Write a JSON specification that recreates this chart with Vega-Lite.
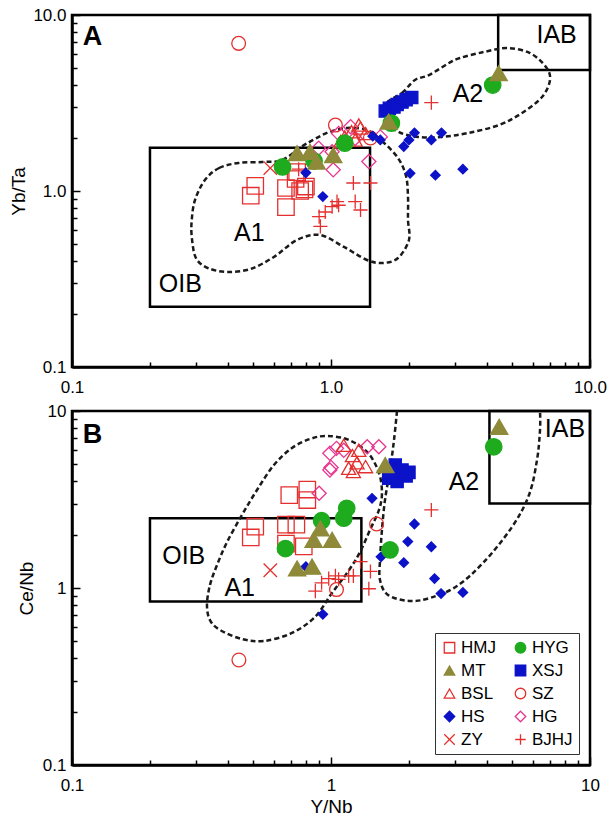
{
  "$schema": "https://vega.github.io/schema/vega-lite/v6.json",
  "padding": {"left": 8, "top": 4, "right": 0, "bottom": 3},
  "bounds": "flush",
  "spacing": 44,
  "datasets": {
    "pts": [
      {"panel":"A","group":"HMJ","x":0.51,"y":1.07},{"panel":"A","group":"HMJ","x":0.49,"y":0.94},{"panel":"A","group":"HMJ","x":0.67,"y":1.04},{"panel":"A","group":"HMJ","x":0.67,"y":0.81},{"panel":"A","group":"HMJ","x":0.79,"y":1.02},{"panel":"A","group":"HMJ","x":0.76,"y":1.0},{"panel":"A","group":"HMJ","x":0.73,"y":1.17},{"panel":"A","group":"HMJ","x":0.74,"y":1.28},{"panel":"A","group":"HMJ","x":0.8,"y":1.06},
      {"panel":"A","group":"BJHJ","x":1.22,"y":1.11},{"panel":"A","group":"BJHJ","x":1.42,"y":1.11},{"panel":"A","group":"BJHJ","x":1.055,"y":0.87},{"panel":"A","group":"BJHJ","x":1.01,"y":0.815},{"panel":"A","group":"BJHJ","x":1.24,"y":0.87},{"panel":"A","group":"BJHJ","x":1.3,"y":0.78},{"panel":"A","group":"BJHJ","x":0.95,"y":0.76},{"panel":"A","group":"BJHJ","x":0.9,"y":0.715},{"panel":"A","group":"BJHJ","x":0.91,"y":0.63},{"panel":"A","group":"BJHJ","x":1.07,"y":0.83},{"panel":"A","group":"BJHJ","x":2.44,"y":3.18},{"panel":"A","group":"BJHJ","x":0.75,"y":1.33},
      {"panel":"A","group":"ZY","x":0.583,"y":1.35},
      {"panel":"A","group":"SZ","x":0.44,"y":6.9},{"panel":"A","group":"SZ","x":1.04,"y":2.37},{"panel":"A","group":"SZ","x":1.42,"y":2.0},
      {"panel":"A","group":"HG","x":1.19,"y":2.32},{"panel":"A","group":"HG","x":0.896,"y":1.75},{"panel":"A","group":"HG","x":1.01,"y":1.67},{"panel":"A","group":"HG","x":1.02,"y":1.32},{"panel":"A","group":"HG","x":1.4,"y":1.47},{"panel":"A","group":"HG","x":1.55,"y":2.03},{"panel":"A","group":"HG","x":1.07,"y":2.12},{"panel":"A","group":"HG","x":1.24,"y":1.99},
      {"panel":"A","group":"BSL","x":1.28,"y":2.37},{"panel":"A","group":"BSL","x":1.2,"y":2.17},{"panel":"A","group":"BSL","x":1.13,"y":2.03},{"panel":"A","group":"BSL","x":1.36,"y":2.12},{"panel":"A","group":"BSL","x":1.09,"y":1.91},{"panel":"A","group":"BSL","x":1.24,"y":1.95},{"panel":"A","group":"BSL","x":1.3,"y":2.28},
      {"panel":"A","group":"HS","x":0.8,"y":1.27},{"panel":"A","group":"HS","x":0.93,"y":0.93},{"panel":"A","group":"HS","x":1.45,"y":2.05},{"panel":"A","group":"HS","x":1.55,"y":1.95},{"panel":"A","group":"HS","x":1.91,"y":1.79},{"panel":"A","group":"HS","x":2.0,"y":1.95},{"panel":"A","group":"HS","x":2.1,"y":2.14},{"panel":"A","group":"HS","x":2.44,"y":1.95},{"panel":"A","group":"HS","x":2.67,"y":2.14},{"panel":"A","group":"HS","x":2.02,"y":1.26},{"panel":"A","group":"HS","x":2.53,"y":1.23},{"panel":"A","group":"HS","x":3.23,"y":1.33},
      {"panel":"A","group":"XSJ","x":1.62,"y":2.85},{"panel":"A","group":"XSJ","x":1.68,"y":2.95},{"panel":"A","group":"XSJ","x":1.75,"y":3.0},{"panel":"A","group":"XSJ","x":1.8,"y":3.1},{"panel":"A","group":"XSJ","x":1.88,"y":3.2},{"panel":"A","group":"XSJ","x":1.95,"y":3.3},{"panel":"A","group":"XSJ","x":2.05,"y":3.4},
      {"panel":"A","group":"HYG","x":0.65,"y":1.37},{"panel":"A","group":"HYG","x":0.86,"y":1.48},{"panel":"A","group":"HYG","x":1.13,"y":1.87},{"panel":"A","group":"HYG","x":1.71,"y":2.43},{"panel":"A","group":"HYG","x":4.21,"y":4.0},
      {"panel":"A","group":"MT","x":0.74,"y":1.64},{"panel":"A","group":"MT","x":0.83,"y":1.67},{"panel":"A","group":"MT","x":0.88,"y":1.47},{"panel":"A","group":"MT","x":1.02,"y":1.6},{"panel":"A","group":"MT","x":1.67,"y":2.48},{"panel":"A","group":"MT","x":4.44,"y":4.67},
      {"panel":"B","group":"HMJ","x":0.69,"y":3.35},{"panel":"B","group":"HMJ","x":0.81,"y":3.6},{"panel":"B","group":"HMJ","x":0.81,"y":3.14},{"panel":"B","group":"HMJ","x":0.51,"y":2.22},{"panel":"B","group":"HMJ","x":0.49,"y":1.93},{"panel":"B","group":"HMJ","x":0.67,"y":2.28},{"panel":"B","group":"HMJ","x":0.735,"y":2.28},{"panel":"B","group":"HMJ","x":0.67,"y":1.78},{"panel":"B","group":"HMJ","x":0.785,"y":1.72},
      {"panel":"B","group":"BJHJ","x":2.44,"y":2.76},{"panel":"B","group":"BJHJ","x":1.3,"y":1.41},{"panel":"B","group":"BJHJ","x":1.42,"y":1.24},{"panel":"B","group":"BJHJ","x":1.4,"y":0.99},{"panel":"B","group":"BJHJ","x":1.22,"y":1.17},{"panel":"B","group":"BJHJ","x":1.17,"y":1.17},{"panel":"B","group":"BJHJ","x":1.04,"y":1.17},{"panel":"B","group":"BJHJ","x":0.98,"y":1.13},{"panel":"B","group":"BJHJ","x":0.92,"y":1.07},{"panel":"B","group":"BJHJ","x":0.87,"y":0.96},{"panel":"B","group":"BJHJ","x":1.07,"y":1.12},
      {"panel":"B","group":"ZY","x":0.583,"y":1.26},
      {"panel":"B","group":"SZ","x":1.5,"y":2.3},{"panel":"B","group":"SZ","x":1.05,"y":0.98},{"panel":"B","group":"SZ","x":0.441,"y":0.392},
      {"panel":"B","group":"HG","x":0.99,"y":5.77},{"panel":"B","group":"HG","x":1.05,"y":6.15},{"panel":"B","group":"HG","x":1.12,"y":6.0},{"panel":"B","group":"HG","x":1.38,"y":6.28},{"panel":"B","group":"HG","x":1.53,"y":6.28},{"panel":"B","group":"HG","x":0.99,"y":4.64},{"panel":"B","group":"HG","x":1.0,"y":4.8},{"panel":"B","group":"HG","x":0.9,"y":3.43},
      {"panel":"B","group":"BSL","x":1.12,"y":6.4},{"panel":"B","group":"BSL","x":1.21,"y":5.6},{"panel":"B","group":"BSL","x":1.26,"y":5.1},{"panel":"B","group":"BSL","x":1.17,"y":4.75},{"panel":"B","group":"BSL","x":1.36,"y":4.85},{"panel":"B","group":"BSL","x":1.28,"y":6.0},{"panel":"B","group":"BSL","x":1.22,"y":4.55},
      {"panel":"B","group":"HS","x":1.44,"y":3.21},{"panel":"B","group":"HS","x":2.1,"y":2.3},{"panel":"B","group":"HS","x":1.98,"y":1.83},{"panel":"B","group":"HS","x":2.44,"y":1.71},{"panel":"B","group":"HS","x":1.56,"y":1.5},{"panel":"B","group":"HS","x":1.91,"y":1.39},{"panel":"B","group":"HS","x":2.51,"y":1.13},{"panel":"B","group":"HS","x":2.66,"y":0.93},{"panel":"B","group":"HS","x":3.23,"y":0.944},{"panel":"B","group":"HS","x":0.93,"y":0.71},{"panel":"B","group":"HS","x":0.8,"y":1.32},
      {"panel":"B","group":"XSJ","x":1.77,"y":4.95},{"panel":"B","group":"XSJ","x":2.0,"y":4.5},{"panel":"B","group":"XSJ","x":1.67,"y":4.17},{"panel":"B","group":"XSJ","x":1.8,"y":4.0},{"panel":"B","group":"XSJ","x":1.88,"y":4.64},{"panel":"B","group":"XSJ","x":1.7,"y":4.5},{"panel":"B","group":"XSJ","x":1.95,"y":4.3},
      {"panel":"B","group":"HYG","x":1.69,"y":1.64},{"panel":"B","group":"HYG","x":1.15,"y":2.82},{"panel":"B","group":"HYG","x":1.12,"y":2.48},{"panel":"B","group":"HYG","x":0.92,"y":2.4},{"panel":"B","group":"HYG","x":0.667,"y":1.67},{"panel":"B","group":"HYG","x":4.25,"y":6.28},
      {"panel":"B","group":"MT","x":0.91,"y":2.17},{"panel":"B","group":"MT","x":0.857,"y":1.87},{"panel":"B","group":"MT","x":1.01,"y":1.87},{"panel":"B","group":"MT","x":0.74,"y":1.29},{"panel":"B","group":"MT","x":0.845,"y":1.32},{"panel":"B","group":"MT","x":1.62,"y":4.95},{"panel":"B","group":"MT","x":4.46,"y":8.15}
    ],
    "curves": [
      {"panel":"A","curve":"A1","i":0,"x":0.326,"y":1.155},{"panel":"A","curve":"A1","i":1,"x":0.37,"y":1.351},{"panel":"A","curve":"A1","i":2,"x":0.44,"y":1.443},{"panel":"A","curve":"A1","i":3,"x":0.542,"y":1.462},{"panel":"A","curve":"A1","i":4,"x":0.647,"y":1.5},{"panel":"A","curve":"A1","i":5,"x":0.766,"y":1.778},{"panel":"A","curve":"A1","i":6,"x":0.867,"y":1.975},{"panel":"A","curve":"A1","i":7,"x":0.982,"y":2.16},{"panel":"A","curve":"A1","i":8,"x":1.153,"y":2.28},{"panel":"A","curve":"A1","i":9,"x":1.377,"y":2.22},{"panel":"A","curve":"A1","i":10,"x":1.588,"y":1.898},{"panel":"A","curve":"A1","i":11,"x":1.814,"y":1.54},{"panel":"A","curve":"A1","i":12,"x":1.948,"y":1.217},{"panel":"A","curve":"A1","i":13,"x":1.983,"y":0.924},{"panel":"A","curve":"A1","i":14,"x":1.983,"y":0.684},{"panel":"A","curve":"A1","i":15,"x":2.0,"y":0.527},{"panel":"A","curve":"A1","i":16,"x":1.814,"y":0.416},{"panel":"A","curve":"A1","i":17,"x":1.588,"y":0.39},{"panel":"A","curve":"A1","i":18,"x":1.377,"y":0.4055},{"panel":"A","curve":"A1","i":19,"x":1.122,"y":0.481},{"panel":"A","curve":"A1","i":20,"x":0.907,"y":0.562},{"panel":"A","curve":"A1","i":21,"x":0.739,"y":0.527},{"panel":"A","curve":"A1","i":22,"x":0.602,"y":0.422},{"panel":"A","curve":"A1","i":23,"x":0.487,"y":0.36},{"panel":"A","curve":"A1","i":24,"x":0.397,"y":0.347},{"panel":"A","curve":"A1","i":25,"x":0.335,"y":0.365},{"panel":"A","curve":"A1","i":26,"x":0.301,"y":0.416},{"panel":"A","curve":"A1","i":27,"x":0.29,"y":0.55},{"panel":"A","curve":"A1","i":28,"x":0.29,"y":0.684},{"panel":"A","curve":"A1","i":29,"x":0.2985,"y":0.889},
      {"panel":"A","curve":"A2","i":0,"x":1.631,"y":3.12},{"panel":"A","curve":"A2","i":1,"x":1.88,"y":3.604},{"panel":"A","curve":"A2","i":2,"x":2.11,"y":4.273},{"panel":"A","curve":"A2","i":3,"x":2.39,"y":4.56},{"panel":"A","curve":"A2","i":4,"x":2.855,"y":5.337},{"panel":"A","curve":"A2","i":5,"x":3.148,"y":5.697},{"panel":"A","curve":"A2","i":6,"x":3.896,"y":6.164},{"panel":"A","curve":"A2","i":7,"x":4.78,"y":6.49},{"panel":"A","curve":"A2","i":8,"x":5.866,"y":6.08},{"panel":"A","curve":"A2","i":9,"x":6.76,"y":5.064},{"panel":"A","curve":"A2","i":10,"x":7.007,"y":4.273},{"panel":"A","curve":"A2","i":11,"x":6.527,"y":3.42},{"panel":"A","curve":"A2","i":12,"x":5.464,"y":2.775},{"panel":"A","curve":"A2","i":13,"x":4.452,"y":2.37},{"panel":"A","curve":"A2","i":14,"x":3.38,"y":2.135},{"panel":"A","curve":"A2","i":15,"x":2.66,"y":2.027},{"panel":"A","curve":"A2","i":16,"x":2.167,"y":2.027},{"panel":"A","curve":"A2","i":17,"x":1.83,"y":2.16},{"panel":"A","curve":"A2","i":18,"x":1.66,"y":2.466},
      {"panel":"B","curve":"A1","i":0,"x":0.332,"y":0.802},{"panel":"B","curve":"A1","i":1,"x":0.341,"y":1.04},{"panel":"B","curve":"A1","i":2,"x":0.363,"y":1.349},{"panel":"B","curve":"A1","i":3,"x":0.397,"y":1.819},{"panel":"B","curve":"A1","i":4,"x":0.453,"y":2.585},{"panel":"B","curve":"A1","i":5,"x":0.518,"y":3.579},{"panel":"B","curve":"A1","i":6,"x":0.602,"y":4.954},{"panel":"B","curve":"A1","i":7,"x":0.707,"y":6.18},{"panel":"B","curve":"A1","i":8,"x":0.83,"y":6.948},{"panel":"B","curve":"A1","i":9,"x":0.965,"y":7.225},{"panel":"B","curve":"A1","i":10,"x":1.174,"y":6.859},{"panel":"B","curve":"A1","i":11,"x":1.39,"y":5.789},{"panel":"B","curve":"A1","i":12,"x":1.532,"y":4.463},{"panel":"B","curve":"A1","i":13,"x":1.573,"y":3.441},{"panel":"B","curve":"A1","i":14,"x":1.532,"y":2.759},{"panel":"B","curve":"A1","i":15,"x":1.414,"y":2.127},{"panel":"B","curve":"A1","i":16,"x":1.294,"y":1.597},{"panel":"B","curve":"A1","i":17,"x":1.174,"y":1.264},{"panel":"B","curve":"A1","i":18,"x":1.009,"y":0.937},{"panel":"B","curve":"A1","i":19,"x":0.867,"y":0.686},{"panel":"B","curve":"A1","i":20,"x":0.707,"y":0.557},{"panel":"B","curve":"A1","i":21,"x":0.551,"y":0.502},{"panel":"B","curve":"A1","i":22,"x":0.453,"y":0.515},{"panel":"B","curve":"A1","i":23,"x":0.373,"y":0.579},{"panel":"B","curve":"A1","i":24,"x":0.341,"y":0.659},
      {"panel":"B","curve":"A2","i":0,"x":1.798,"y":10},{"panel":"B","curve":"A2","i":1,"x":1.751,"y":6.859},{"panel":"B","curve":"A2","i":2,"x":1.69,"y":4.642},{"panel":"B","curve":"A2","i":3,"x":1.616,"y":3.142},{"panel":"B","curve":"A2","i":4,"x":1.573,"y":2.127},{"panel":"B","curve":"A2","i":5,"x":1.546,"y":1.439},{"panel":"B","curve":"A2","i":6,"x":1.546,"y":1.11},{"panel":"B","curve":"A2","i":7,"x":1.66,"y":0.913},{"panel":"B","curve":"A2","i":8,"x":2.0,"y":0.845},{"panel":"B","curve":"A2","i":9,"x":2.411,"y":0.878},{"panel":"B","curve":"A2","i":10,"x":3.065,"y":1.026},{"panel":"B","curve":"A2","i":11,"x":3.896,"y":1.403},{"panel":"B","curve":"A2","i":12,"x":4.997,"y":2.211},{"panel":"B","curve":"A2","i":13,"x":5.814,"y":3.353},{"panel":"B","curve":"A2","i":14,"x":6.243,"y":5.287},{"panel":"B","curve":"A2","i":15,"x":6.412,"y":7.81},{"panel":"B","curve":"A2","i":16,"x":6.412,"y":10}
    ],
    "boxes": [
      {"panel":"A","box":"OIB","x1":0.2,"x2":1.415,"y1":0.22,"y2":1.76},
      {"panel":"A","box":"IAB","x1":4.42,"x2":10,"y1":4.87,"y2":10},
      {"panel":"B","box":"OIB","x1":0.2,"x2":1.31,"y1":0.84,"y2":2.48},
      {"panel":"B","box":"IAB","x1":4.09,"x2":10,"y1":3.0,"y2":10}
    ],
    "labels": [
      {"panel":"A","text":"IAB","x":7.43,"y":7.69},{"panel":"A","text":"A2","x":3.38,"y":3.56},{"panel":"A","text":"A1","x":0.484,"y":0.577},{"panel":"A","text":"OIB","x":0.262,"y":0.296},
      {"panel":"B","text":"IAB","x":8.0,"y":7.91},{"panel":"B","text":"A2","x":3.26,"y":3.99},{"panel":"B","text":"A1","x":0.444,"y":1.006},{"panel":"B","text":"OIB","x":0.27,"y":1.516}
    ],
    "letters": [
      {"panel":"A","text":"A","x":0.12,"y":7.5},
      {"panel":"B","text":"B","x":0.12,"y":7.32}
    ]
  },
  "resolve": {
    "scale": {"fill": "independent", "stroke": "independent", "shape": "independent", "size": "independent"},
    "legend": {"fill": "independent", "stroke": "independent", "shape": "independent", "size": "independent"}
  },
  "config": {
    "font": "Liberation Sans",
    "view": {"stroke": "black", "strokeWidth": 2.5},
    "axis": {"grid": false, "labelFont": "Liberation Sans", "labelFontSize": 17, "labelColor": "black", "titleFont": "Liberation Sans", "titleFontSize": 19, "titleFontWeight": "normal", "titleColor": "black", "domainColor": "black", "domainWidth": 2.5, "tickColor": "black", "tickWidth": 1.5, "labelFlush": false, "labelOverlap": false},
    "legend": {"orient": "bottom-right", "offset": 11, "columns": 2, "strokeColor": "#333", "fillColor": "white", "padding": 6, "rowPadding": 5, "columnPadding": 16, "labelFont": "Liberation Sans", "labelFontSize": 17, "labelColor": "black", "labelOffset": 3, "symbolSize": 110, "symbolStrokeWidth": 1.3}
  },
  "vconcat": [
    {
      "width": 518,
      "height": 352,
      "resolve": {"axis": {"x": "independent", "y": "independent"}},
      "layer": [
        {
          "data": {"name": "boxes"},
          "transform": [{"filter": "datum.panel === 'A'"}],
          "mark": {"type": "rect", "fill": "transparent", "stroke": "black", "strokeWidth": 2.5},
          "encoding": {
            "x": {"field": "x1", "type": "quantitative", "scale": {"type": "log", "domain": [0.1, 10], "nice": false}, "axis": {"values": [0.1, 1, 10], "format": ".1f", "tickSize": -8, "labelPadding": 20, "title": null}},
            "x2": {"field": "x2"},
            "y": {"field": "y1", "type": "quantitative", "scale": {"type": "log", "domain": [0.1, 10], "nice": false}, "axis": {"values": [0.1, 1, 10], "format": ".1f", "tickSize": -8, "labelPadding": 14, "title": "Yb/Ta", "titlePadding": 4}},
            "y2": {"field": "y2"}
          }
        },
        {
          "data": {"name": "curves"},
          "transform": [{"filter": "datum.panel === 'A'"}],
          "mark": {"type": "line", "interpolate": "cardinal-closed", "stroke": "#1a1a1a", "strokeWidth": 2.5, "strokeDash": [5, 3]},
          "encoding": {
            "x": {"field": "x", "type": "quantitative", "scale": {"type": "log", "domain": [0.1, 10], "nice": false}, "axis": {"orient": "bottom", "values": [0.2, 0.3, 0.4, 0.5, 0.6, 0.7, 0.8, 0.9, 2, 3, 4, 5, 6, 7, 8, 9], "labels": false, "domain": false, "tickSize": -5, "title": null}},
            "y": {"field": "y", "type": "quantitative", "scale": {"type": "log", "domain": [0.1, 10], "nice": false}, "axis": {"orient": "left", "values": [0.2, 0.3, 0.4, 0.5, 0.6, 0.7, 0.8, 0.9, 2, 3, 4, 5, 6, 7, 8, 9], "labels": false, "domain": false, "tickSize": -5, "title": null}},
            "detail": {"field": "curve"},
            "order": {"field": "i", "type": "quantitative"}
          }
        },
        {
          "data": {"name": "pts"},
          "transform": [{"filter": "datum.panel === 'A'"}],
          "mark": {"type": "point", "strokeWidth": 1.3, "opacity": 1},
          "encoding": {
            "x": {"field": "x", "type": "quantitative", "scale": {"type": "log", "domain": [0.1, 10], "nice": false}, "axis": null},
            "y": {"field": "y", "type": "quantitative", "scale": {"type": "log", "domain": [0.1, 10], "nice": false}, "axis": null},
            "fill": {"field": "group", "type": "nominal", "scale": {"domain": ["HMJ", "MT", "BSL", "HS", "ZY", "HYG", "XSJ", "SZ", "HG", "BJHJ"], "range": ["transparent", "#8f8a3a", "transparent", "#0b12c8", "transparent", "#1eab1e", "#0b12c8", "transparent", "transparent", "transparent"]}, "legend": null},
            "stroke": {"field": "group", "type": "nominal", "scale": {"domain": ["HMJ", "MT", "BSL", "HS", "ZY", "HYG", "XSJ", "SZ", "HG", "BJHJ"], "range": ["#e3302f", "#8f8a3a", "#e3302f", "#0b12c8", "#e3302f", "#1eab1e", "#0b12c8", "#e3302f", "#e8358f", "#e3302f"]}, "legend": null},
            "shape": {"field": "group", "type": "nominal", "scale": {"domain": ["HMJ", "MT", "BSL", "HS", "ZY", "HYG", "XSJ", "SZ", "HG", "BJHJ"], "range": ["square", "triangle-up", "triangle-up", "diamond", "M-1,-1L1,1M-1,1L1,-1", "circle", "square", "circle", "diamond", "M-1,0L1,0M0,-1L0,1"]}, "legend": null},
            "size": {"field": "group", "type": "nominal", "scale": {"type": "ordinal", "domain": ["BJHJ", "BSL", "HG", "HMJ", "HS", "HYG", "MT", "SZ", "XSJ", "ZY"], "range": [200, 200, 200, 270, 90, 270, 300, 190, 150, 180]}, "legend": null}
          }
        },
        {
          "data": {"name": "labels"},
          "transform": [{"filter": "datum.panel === 'A'"}],
          "mark": {"type": "text", "fontSize": 25, "font": "Liberation Sans", "color": "black", "align": "center", "baseline": "middle"},
          "encoding": {
            "x": {"field": "x", "type": "quantitative", "scale": {"type": "log", "domain": [0.1, 10], "nice": false}, "axis": null},
            "y": {"field": "y", "type": "quantitative", "scale": {"type": "log", "domain": [0.1, 10], "nice": false}, "axis": null},
            "text": {"field": "text"}
          }
        },
        {
          "data": {"name": "letters"},
          "transform": [{"filter": "datum.panel === 'A'"}],
          "mark": {"type": "text", "fontSize": 27, "fontWeight": "bold", "font": "Liberation Sans", "color": "black", "align": "center", "baseline": "middle"},
          "encoding": {
            "x": {"field": "x", "type": "quantitative", "scale": {"type": "log", "domain": [0.1, 10], "nice": false}, "axis": null},
            "y": {"field": "y", "type": "quantitative", "scale": {"type": "log", "domain": [0.1, 10], "nice": false}, "axis": null},
            "text": {"field": "text"}
          }
        }
      ]
    },
    {
      "width": 518,
      "height": 354,
      "resolve": {"axis": {"x": "independent", "y": "independent"}},
      "layer": [
        {
          "data": {"name": "boxes"},
          "transform": [{"filter": "datum.panel === 'B'"}],
          "mark": {"type": "rect", "fill": "transparent", "stroke": "black", "strokeWidth": 2.5},
          "encoding": {
            "x": {"field": "x1", "type": "quantitative", "scale": {"type": "log", "domain": [0.1, 10], "nice": false}, "axis": {"values": [0.1, 1, 10], "format": "~g", "tickSize": -8, "labelPadding": 20, "title": "Y/Nb", "titlePadding": 4}},
            "x2": {"field": "x2"},
            "y": {"field": "y1", "type": "quantitative", "scale": {"type": "log", "domain": [0.1, 10], "nice": false}, "axis": {"values": [0.1, 1, 10], "format": "~g", "tickSize": -8, "labelPadding": 14, "title": "Ce/Nb", "titlePadding": 6}},
            "y2": {"field": "y2"}
          }
        },
        {
          "data": {"name": "curves"},
          "transform": [{"filter": "datum.panel === 'B' && datum.curve === 'A1'"}],
          "mark": {"type": "line", "interpolate": "cardinal-closed", "stroke": "#1a1a1a", "strokeWidth": 2.5, "strokeDash": [5, 3]},
          "encoding": {
            "x": {"field": "x", "type": "quantitative", "scale": {"type": "log", "domain": [0.1, 10], "nice": false}, "axis": {"orient": "bottom", "values": [0.2, 0.3, 0.4, 0.5, 0.6, 0.7, 0.8, 0.9, 2, 3, 4, 5, 6, 7, 8, 9], "labels": false, "domain": false, "tickSize": -5, "title": null}},
            "y": {"field": "y", "type": "quantitative", "scale": {"type": "log", "domain": [0.1, 10], "nice": false}, "axis": {"orient": "left", "values": [0.2, 0.3, 0.4, 0.5, 0.6, 0.7, 0.8, 0.9, 2, 3, 4, 5, 6, 7, 8, 9], "labels": false, "domain": false, "tickSize": -5, "title": null}},
            "detail": {"field": "curve"},
            "order": {"field": "i", "type": "quantitative"}
          }
        },
        {
          "data": {"name": "curves"},
          "transform": [{"filter": "datum.panel === 'B' && datum.curve === 'A2'"}],
          "mark": {"type": "line", "interpolate": "cardinal", "stroke": "#1a1a1a", "strokeWidth": 2.5, "strokeDash": [5, 3]},
          "encoding": {
            "x": {"field": "x", "type": "quantitative", "scale": {"type": "log", "domain": [0.1, 10], "nice": false}, "axis": null},
            "y": {"field": "y", "type": "quantitative", "scale": {"type": "log", "domain": [0.1, 10], "nice": false}, "axis": null},
            "detail": {"field": "curve"},
            "order": {"field": "i", "type": "quantitative"}
          }
        },
        {
          "data": {"name": "pts"},
          "transform": [{"filter": "datum.panel === 'B'"}],
          "mark": {"type": "point", "strokeWidth": 1.3, "opacity": 1},
          "encoding": {
            "x": {"field": "x", "type": "quantitative", "scale": {"type": "log", "domain": [0.1, 10], "nice": false}, "axis": null},
            "y": {"field": "y", "type": "quantitative", "scale": {"type": "log", "domain": [0.1, 10], "nice": false}, "axis": null},
            "fill": {"field": "group", "type": "nominal", "scale": {"domain": ["HMJ", "MT", "BSL", "HS", "ZY", "HYG", "XSJ", "SZ", "HG", "BJHJ"], "range": ["transparent", "#8f8a3a", "transparent", "#0b12c8", "transparent", "#1eab1e", "#0b12c8", "transparent", "transparent", "transparent"]}, "legend": {"title": null}},
            "stroke": {"field": "group", "type": "nominal", "scale": {"domain": ["HMJ", "MT", "BSL", "HS", "ZY", "HYG", "XSJ", "SZ", "HG", "BJHJ"], "range": ["#e3302f", "#8f8a3a", "#e3302f", "#0b12c8", "#e3302f", "#1eab1e", "#0b12c8", "#e3302f", "#e8358f", "#e3302f"]}, "legend": {"title": null}},
            "shape": {"field": "group", "type": "nominal", "scale": {"domain": ["HMJ", "MT", "BSL", "HS", "ZY", "HYG", "XSJ", "SZ", "HG", "BJHJ"], "range": ["square", "triangle-up", "triangle-up", "diamond", "M-1,-1L1,1M-1,1L1,-1", "circle", "square", "circle", "diamond", "M-1,0L1,0M0,-1L0,1"]}, "legend": {"title": null}},
            "size": {"field": "group", "type": "nominal", "scale": {"type": "ordinal", "domain": ["BJHJ", "BSL", "HG", "HMJ", "HS", "HYG", "MT", "SZ", "XSJ", "ZY"], "range": [200, 200, 200, 270, 90, 270, 300, 190, 150, 180]}, "legend": null}
          }
        },
        {
          "data": {"name": "labels"},
          "transform": [{"filter": "datum.panel === 'B'"}],
          "mark": {"type": "text", "fontSize": 25, "font": "Liberation Sans", "color": "black", "align": "center", "baseline": "middle"},
          "encoding": {
            "x": {"field": "x", "type": "quantitative", "scale": {"type": "log", "domain": [0.1, 10], "nice": false}, "axis": null},
            "y": {"field": "y", "type": "quantitative", "scale": {"type": "log", "domain": [0.1, 10], "nice": false}, "axis": null},
            "text": {"field": "text"}
          }
        },
        {
          "data": {"name": "letters"},
          "transform": [{"filter": "datum.panel === 'B'"}],
          "mark": {"type": "text", "fontSize": 27, "fontWeight": "bold", "font": "Liberation Sans", "color": "black", "align": "center", "baseline": "middle"},
          "encoding": {
            "x": {"field": "x", "type": "quantitative", "scale": {"type": "log", "domain": [0.1, 10], "nice": false}, "axis": null},
            "y": {"field": "y", "type": "quantitative", "scale": {"type": "log", "domain": [0.1, 10], "nice": false}, "axis": null},
            "text": {"field": "text"}
          }
        }
      ]
    }
  ]
}
